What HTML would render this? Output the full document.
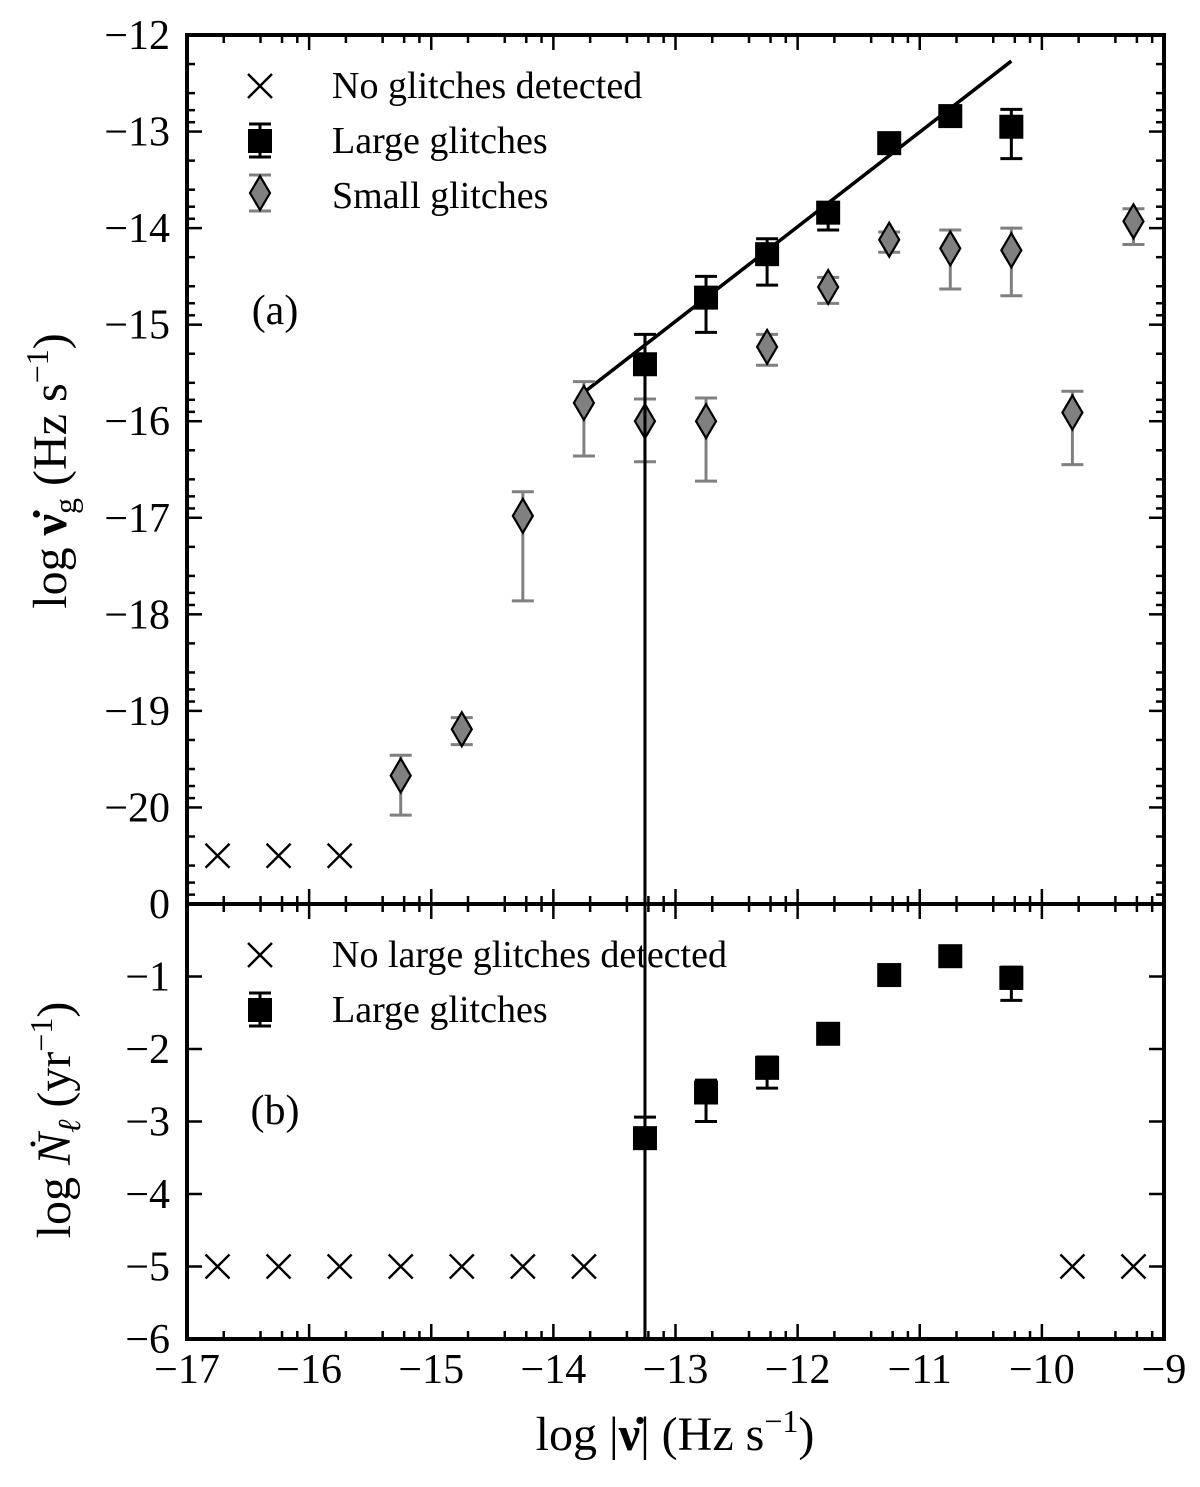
<!DOCTYPE html>
<html><head><meta charset="utf-8"><style>body{margin:0;background:#fff}svg text{font-family:"Liberation Serif",serif;fill:#000}</style></head>
<body>
<svg id="chart" width="1200" height="1482" xmlns="http://www.w3.org/2000/svg"></svg>
<script>
const xTicks=[-17,-16,-15,-14,-13,-12,-11,-10,-9];
const aTicks=[-12,-13,-14,-15,-16,-17,-18,-19,-20];
const bTicks=[-1,-2,-3,-4,-5,-6];
const aLargeX=[-13.25,-12.75,-12.25,-11.75,-11.25,-10.75,-10.25];
const aLargeY=[-15.41,-14.72,-14.27,-13.84,-13.12,-12.84,-12.95];
const aLargeHi=[-15.1,-14.5,-14.11,-13.75,-13.05,-12.78,-12.77];
const aLargeLo=[-30,-15.08,-14.59,-14.02,-13.2,-12.9,-13.28];
const aSmallX=[-15.25,-14.75,-14.25,-13.75,-13.25,-12.75,-12.25,-11.75,-11.25,-10.75,-10.25,-9.75,-9.25];
const aSmallY=[-19.67,-19.19,-16.98,-15.81,-16.0,-16.0,-15.23,-14.61,-14.12,-14.21,-14.23,-15.91,-13.93];
const aSmallHi=[-19.46,-19.07,-16.73,-15.59,-15.77,-15.76,-15.1,-14.51,-14.04,-14.02,-14.0,-15.69,-13.8];
const aSmallLo=[-20.08,-19.35,-17.86,-16.36,-16.42,-16.62,-15.42,-14.78,-14.25,-14.63,-14.7,-16.45,-14.17];
const aCrossX=[-16.75,-16.25,-15.75];
const aCrossY=[-20.5,-20.5,-20.5];
const fitX=[-13.8,-10.25];
const fitY=[-15.75,-12.27];
const bLargeX=[-13.25,-12.75,-12.25,-11.75,-11.25,-10.75,-10.25];
const bLargeY=[-3.23,-2.6,-2.26,-1.79,-0.98,-0.72,-1.02];
const bLargeHi=[-2.94,-2.43,-2.11,-1.72,-0.93,-0.68,-0.87];
const bLargeLo=[-20,-3.0,-2.54,-1.86,-1.03,-0.76,-1.33];
const bCrossX=[-16.75,-16.25,-15.75,-15.25,-14.75,-14.25,-13.75,-9.75,-9.25];
const bCrossY=[-5,-5,-5,-5,-5,-5,-5,-5,-5];

const svg=document.getElementById('chart');
const NS='http://www.w3.org/2000/svg';
const L=187,R=1164,T=35,M=904,B=1339;
const X=v=>L+(v+17)*(R-L)/8;
const YA=v=>Math.min(M,T+(-12-v)*(M-T)/9);
const YB=v=>Math.min(B,M+(-v)*(B-M)/6);
function el(t,a,p){const e=document.createElementNS(NS,t);for(const k in a)e.setAttribute(k,a[k]);(p||svg).appendChild(e);return e;}
function txt(s,x,y,sz,anchor,p){const e=el('text',{x:x,y:y,'font-size':sz,'text-anchor':anchor||'middle'},p);e.textContent=s;return e;}
const lg=Math.log10;
const minF=[lg(2),lg(4),lg(6),lg(8)];
const ax=el('g',{});


el('rect',{x:L,y:T,width:R-L,height:B-T,fill:'none',stroke:'#000','stroke-width':4},ax);
el('line',{x1:L,y1:M,x2:R,y2:M,stroke:'#000','stroke-width':4},ax);
for(let i=0;i<xTicks.length;i++){const x=X(xTicks[i]);
 [[T,1],[M,1],[M,-1],[B,-1]].forEach(([y,d])=>el('line',{x1:x,y1:y,x2:x,y2:y+d*15,stroke:'#000','stroke-width':2.5},ax));
 if(i<xTicks.length-1)minF.forEach(f=>{const xm=X(xTicks[i]+f);[[T,1],[M,1],[M,-1],[B,-1]].forEach(([y,d])=>el('line',{x1:xm,y1:y,x2:xm,y2:y+d*8,stroke:'#000','stroke-width':2.5},ax));});
 const t=txt('\u2212'+Math.abs(xTicks[i]),x,1383,42,'middle',ax);
 }
function yAxis(ticks,Y,extra){
 const all=ticks.concat([extra]);
 all.forEach(v=>{const y=Y(v);[[L,1],[R,-1]].forEach(([x,d])=>el('line',{x1:x,y1:y,x2:x+d*15,y2:y,stroke:'#000','stroke-width':2.5},ax));
  minF.forEach(f=>{const ym=Y(v-f);if(ym<M+0.1&&ym>T&&ym<B)[[L,1],[R,-1]].forEach(([x,d])=>el('line',{x1:x,y1:ym,x2:x+d*8,y2:ym,stroke:'#000','stroke-width':2.5},ax));});});
}
yAxis(aTicks,YA,-21);
yAxis(bTicks,YB,0);
aTicks.forEach(v=>{const t=txt('\u2212'+Math.abs(v),170,YA(v)+14,42,'end',ax);});
txt('0',170,M+14,42,'end',ax);
bTicks.forEach(v=>{const t=txt('\u2212'+Math.abs(v),170,YB(v)+14,42,'end',ax);});
function cross(x,y,s,p){const g=el('g',{stroke:'#000','stroke-width':2.4},p);el('line',{x1:x-s,y1:y-s,x2:x+s,y2:y+s},g);el('line',{x1:x-s,y1:y+s,x2:x+s,y2:y-s},g);return g;}
function errbar(x,y1,y2,c,p){el('line',{x1:x,y1:y1,x2:x,y2:y2,stroke:c,'stroke-width':3},p);[y1,y2].forEach(y=>{if(y<M-1||(y>M+1&&y<B-1))el('line',{x1:x-11,y1:y,x2:x+11,y2:y,stroke:c,'stroke-width':3},p);});}
function square(x,y,p){return el('rect',{x:x-12,y:y-12,width:24,height:24,fill:'#000'},p);}
function diamond(x,y,p){return el('path',{d:`M${x},${y-17}L${x+10},${y}L${x},${y+17}L${x-10},${y}Z`,fill:'#808080',stroke:'#000','stroke-width':2.2},p);}
const pa=el('g',{});


el('line',{x1:X(fitX[0]),y1:YA(fitY[0]),x2:X(fitX[1]),y2:YA(fitY[1]),stroke:'#000','stroke-width':3.5},pa);
aSmallX.forEach((v,i)=>{errbar(X(v),YA(aSmallHi[i]),YA(aSmallLo[i]),'#808080',pa);const d=diamond(X(v),YA(aSmallY[i]),pa);});
aLargeX.forEach((v,i)=>{errbar(X(v),YA(aLargeHi[i]),YA(aLargeLo[i]),'#000',pa);const s=square(X(v),YA(aLargeY[i]),pa);});
aCrossX.forEach((v,i)=>{const c=cross(X(v),YA(aCrossY[i]),12,pa);});
el('line',{x1:X(-13.25),y1:YA(-15.1),x2:X(-13.25),y2:B,stroke:'#000','stroke-width':3},pa);
const pb=el('g',{});


bLargeX.forEach((v,i)=>{errbar(X(v),YB(bLargeHi[i]),YB(bLargeLo[i]),'#000',pb);const s=square(X(v),YB(bLargeY[i]),pb);});
bCrossX.forEach((v,i)=>{const c=cross(X(v),YB(bCrossY[i]),12,pb);});
const la=el('g',{});


cross(260,86,12,la);txt('No glitches detected',332,98,38,'start',la);
errbar(260,124,157,'#000',la);square(260,141,la);txt('Large glitches',332,153,38,'start',la);
errbar(260,175,211,'#808080',la);diamond(260,193,la);txt('Small glitches',332,208,38,'start',la);
const lb=el('g',{});


cross(260,955,12,lb);txt('No large glitches detected',332,967,38,'start',lb);
errbar(260,993,1026,'#000',lb);square(260,1010,lb);txt('Large glitches',332,1022,38,'start',lb);
const ta=txt('(a)',275,324,42,'middle');
const tb=txt('(b)',275,1124,42,'middle');
const ya=el('text',{x:0,y:0,'font-size':48,'text-anchor':'middle',transform:'translate(66,471) rotate(-90)'});

ya.innerHTML='log <tspan font-weight="bold">\u03bd\u0307</tspan><tspan font-size="32" dy="10">g</tspan><tspan dy="-10"> (Hz s</tspan><tspan font-size="32" dy="-18">\u22121</tspan><tspan dy="18">)</tspan>';
const yb=el('text',{x:0,y:0,'font-size':48,'text-anchor':'middle',transform:'translate(70,1120) rotate(-90)'});

yb.innerHTML='log <tspan font-style="italic">N\u0307</tspan><tspan font-size="32" dy="10" font-style="italic">\u2113</tspan><tspan dy="-10"> (yr</tspan><tspan font-size="32" dy="-18">\u22121</tspan><tspan dy="18">)</tspan>';
const xt=el('text',{x:675,y:1450,'font-size':48,'text-anchor':'middle'});

xt.innerHTML='log |<tspan font-weight="bold">\u03bd\u0307</tspan>| (Hz s<tspan font-size="32" dy="-18">\u22121</tspan><tspan dy="18">)</tspan>';
</script>
</body></html>
